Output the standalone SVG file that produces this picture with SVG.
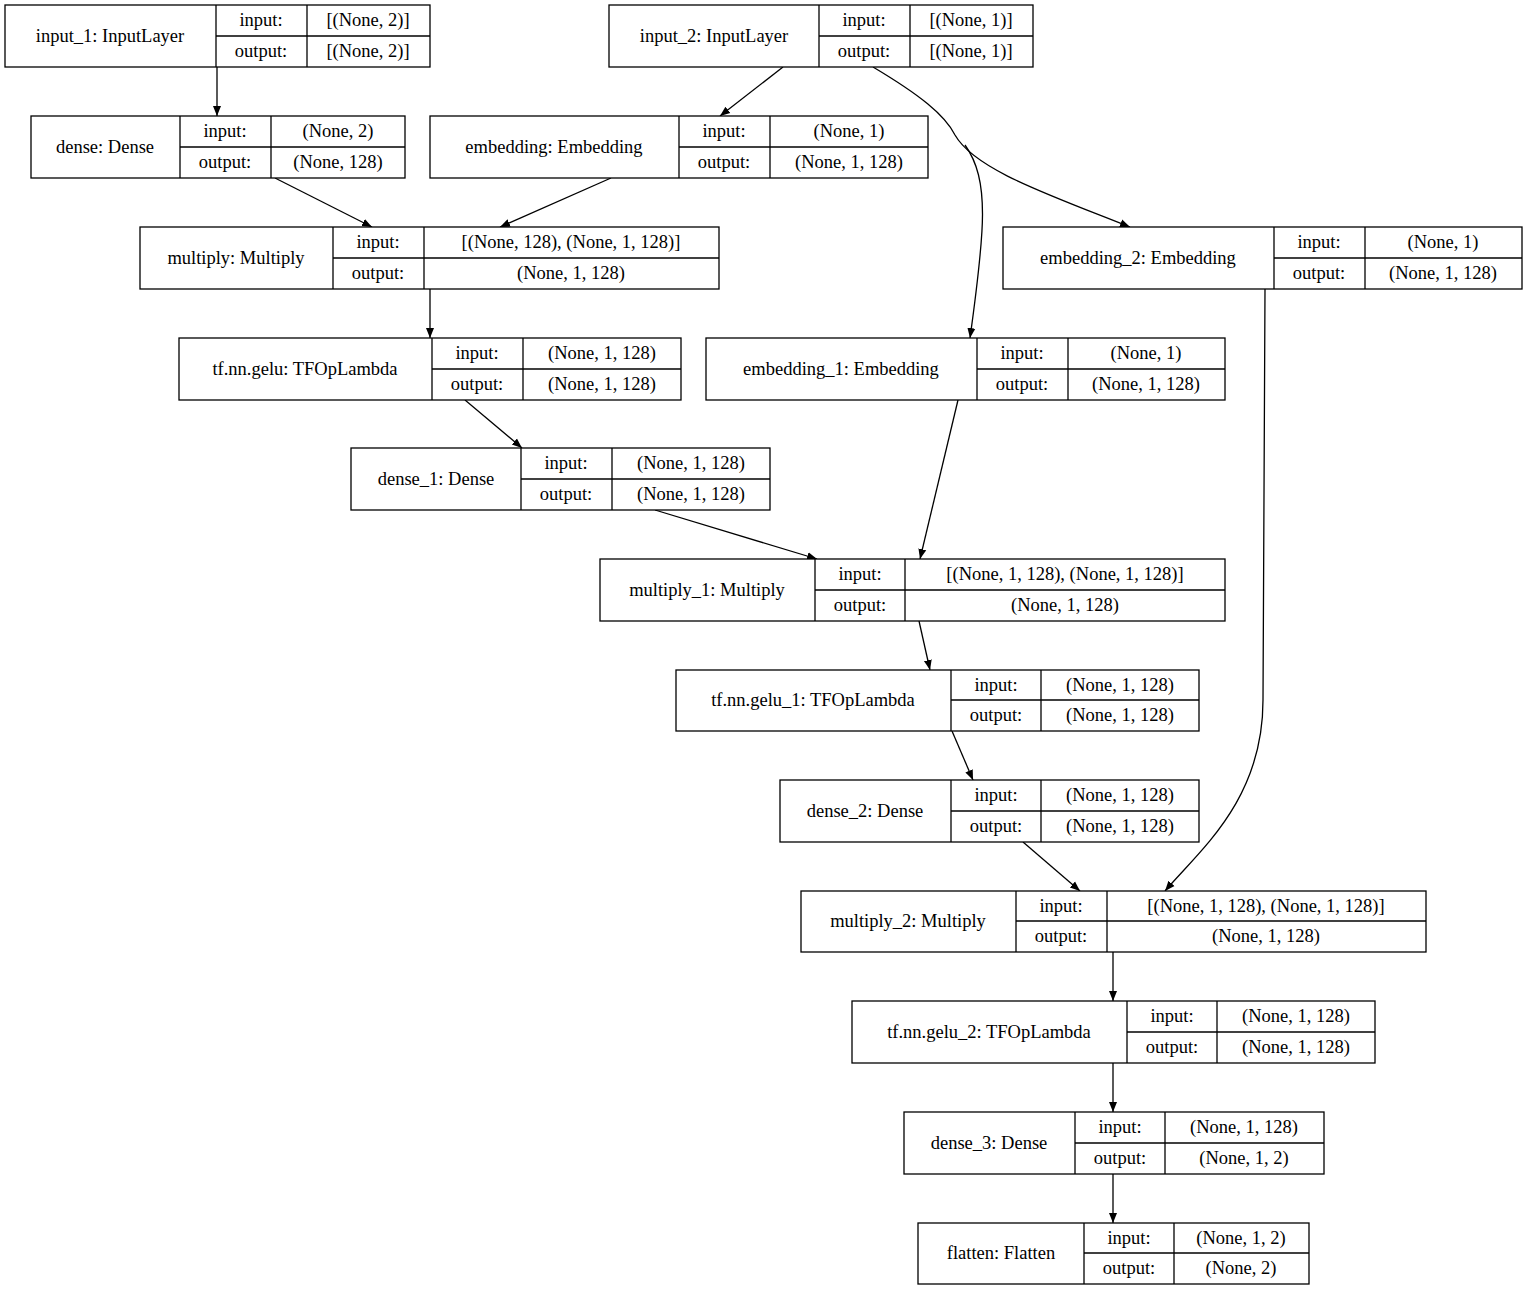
<svg xmlns="http://www.w3.org/2000/svg" width="1529" height="1291" viewBox="0 0 1529 1291">
<style>
rect{fill:#fff;stroke:#000;stroke-width:1.3}
line.d{stroke:#000;stroke-width:1.3}
text{font-family:"Liberation Serif",serif;font-size:18.5px;text-anchor:middle;dominant-baseline:central}
.e{fill:none;stroke:#000;stroke-width:1.3;marker-end:url(#a)}
</style>
<defs><marker id="a" viewBox="0 0 10 10" refX="10" refY="5" markerWidth="10" markerHeight="10" markerUnits="userSpaceOnUse" orient="auto"><path d="M0,1 L10,5 L0,9z" fill="#000"/></marker></defs>
<rect width="1529" height="1291" style="stroke:none"/>
<g id="connectors">
<path class="e" d="M217,67 L217,116"/>
<path class="e" d="M783,67 L720,116"/>
<path class="e" d="M873,67 C920,95 945,115 955,135 C975,170 1050,195 1130,227"/>
<path class="e" d="M965,145 C990,180 985,230 970,338"/>
<path class="e" d="M275,178 L372,227"/>
<path class="e" d="M611,178 L500,227"/>
<path class="e" d="M430,289 L430,338"/>
<path class="e" d="M465,400 L522,448"/>
<path class="e" d="M655,510 L817,559"/>
<path class="e" d="M958,400 L920,559"/>
<path class="e" d="M1265,289 L1263,700 C1263,800 1200,850 1165,891"/>
<path class="e" d="M919,621 L930,670"/>
<path class="e" d="M952,731 L973,780"/>
<path class="e" d="M1023,842 L1080,891"/>
<path class="e" d="M1113,952 L1113,1001"/>
<path class="e" d="M1113,1063 L1113,1112"/>
<path class="e" d="M1113,1174 L1113,1223"/>
</g>
<g id="input_1"><rect x="5" y="5" width="425" height="62"/><line class="d" x1="216" y1="5" x2="216" y2="67"/><line class="d" x1="307" y1="5" x2="307" y2="67"/><line class="d" x1="216" y1="36" x2="430" y2="36"/><text x="110" y="36">input_1: InputLayer</text><text x="261" y="20">input:</text><text x="261" y="51">output:</text><text x="368" y="20">[(None, 2)]</text><text x="368" y="51">[(None, 2)]</text></g>
<g id="input_2"><rect x="609" y="5" width="424" height="62"/><line class="d" x1="819" y1="5" x2="819" y2="67"/><line class="d" x1="910" y1="5" x2="910" y2="67"/><line class="d" x1="819" y1="36" x2="1033" y2="36"/><text x="714" y="36">input_2: InputLayer</text><text x="864" y="20">input:</text><text x="864" y="51">output:</text><text x="971" y="20">[(None, 1)]</text><text x="971" y="51">[(None, 1)]</text></g>
<g id="dense"><rect x="31" y="116" width="374" height="62"/><line class="d" x1="180" y1="116" x2="180" y2="178"/><line class="d" x1="271" y1="116" x2="271" y2="178"/><line class="d" x1="180" y1="147" x2="405" y2="147"/><text x="105" y="147">dense: Dense</text><text x="225" y="131">input:</text><text x="225" y="162">output:</text><text x="338" y="131">(None, 2)</text><text x="338" y="162">(None, 128)</text></g>
<g id="embedding"><rect x="430" y="116" width="498" height="62"/><line class="d" x1="679" y1="116" x2="679" y2="178"/><line class="d" x1="770" y1="116" x2="770" y2="178"/><line class="d" x1="679" y1="147" x2="928" y2="147"/><text x="554" y="147">embedding: Embedding</text><text x="724" y="131">input:</text><text x="724" y="162">output:</text><text x="849" y="131">(None, 1)</text><text x="849" y="162">(None, 1, 128)</text></g>
<g id="multiply"><rect x="140" y="227" width="579" height="62"/><line class="d" x1="333" y1="227" x2="333" y2="289"/><line class="d" x1="424" y1="227" x2="424" y2="289"/><line class="d" x1="333" y1="258" x2="719" y2="258"/><text x="236" y="258">multiply: Multiply</text><text x="378" y="242">input:</text><text x="378" y="273">output:</text><text x="571" y="242">[(None, 128), (None, 1, 128)]</text><text x="571" y="273">(None, 1, 128)</text></g>
<g id="embedding_2"><rect x="1003" y="227" width="519" height="62"/><line class="d" x1="1274" y1="227" x2="1274" y2="289"/><line class="d" x1="1365" y1="227" x2="1365" y2="289"/><line class="d" x1="1274" y1="258" x2="1522" y2="258"/><text x="1138" y="258">embedding_2: Embedding</text><text x="1319" y="242">input:</text><text x="1319" y="273">output:</text><text x="1443" y="242">(None, 1)</text><text x="1443" y="273">(None, 1, 128)</text></g>
<g id="tf.nn.gelu"><rect x="179" y="338" width="502" height="62"/><line class="d" x1="432" y1="338" x2="432" y2="400"/><line class="d" x1="523" y1="338" x2="523" y2="400"/><line class="d" x1="432" y1="369" x2="681" y2="369"/><text x="305" y="369">tf.nn.gelu: TFOpLambda</text><text x="477" y="353">input:</text><text x="477" y="384">output:</text><text x="602" y="353">(None, 1, 128)</text><text x="602" y="384">(None, 1, 128)</text></g>
<g id="embedding_1"><rect x="706" y="338" width="519" height="62"/><line class="d" x1="977" y1="338" x2="977" y2="400"/><line class="d" x1="1068" y1="338" x2="1068" y2="400"/><line class="d" x1="977" y1="369" x2="1225" y2="369"/><text x="841" y="369">embedding_1: Embedding</text><text x="1022" y="353">input:</text><text x="1022" y="384">output:</text><text x="1146" y="353">(None, 1)</text><text x="1146" y="384">(None, 1, 128)</text></g>
<g id="dense_1"><rect x="351" y="448" width="419" height="62"/><line class="d" x1="521" y1="448" x2="521" y2="510"/><line class="d" x1="612" y1="448" x2="612" y2="510"/><line class="d" x1="521" y1="479" x2="770" y2="479"/><text x="436" y="479">dense_1: Dense</text><text x="566" y="463">input:</text><text x="566" y="494">output:</text><text x="691" y="463">(None, 1, 128)</text><text x="691" y="494">(None, 1, 128)</text></g>
<g id="multiply_1"><rect x="600" y="559" width="625" height="62"/><line class="d" x1="815" y1="559" x2="815" y2="621"/><line class="d" x1="905" y1="559" x2="905" y2="621"/><line class="d" x1="815" y1="590" x2="1225" y2="590"/><text x="707" y="590">multiply_1: Multiply</text><text x="860" y="574">input:</text><text x="860" y="605">output:</text><text x="1065" y="574">[(None, 1, 128), (None, 1, 128)]</text><text x="1065" y="605">(None, 1, 128)</text></g>
<g id="tf.nn.gelu_1"><rect x="676" y="670" width="523" height="61"/><line class="d" x1="951" y1="670" x2="951" y2="731"/><line class="d" x1="1041" y1="670" x2="1041" y2="731"/><line class="d" x1="951" y1="700" x2="1199" y2="700"/><text x="813" y="700">tf.nn.gelu_1: TFOpLambda</text><text x="996" y="685">input:</text><text x="996" y="715">output:</text><text x="1120" y="685">(None, 1, 128)</text><text x="1120" y="715">(None, 1, 128)</text></g>
<g id="dense_2"><rect x="780" y="780" width="419" height="62"/><line class="d" x1="951" y1="780" x2="951" y2="842"/><line class="d" x1="1041" y1="780" x2="1041" y2="842"/><line class="d" x1="951" y1="811" x2="1199" y2="811"/><text x="865" y="811">dense_2: Dense</text><text x="996" y="795">input:</text><text x="996" y="826">output:</text><text x="1120" y="795">(None, 1, 128)</text><text x="1120" y="826">(None, 1, 128)</text></g>
<g id="multiply_2"><rect x="801" y="891" width="625" height="61"/><line class="d" x1="1016" y1="891" x2="1016" y2="952"/><line class="d" x1="1107" y1="891" x2="1107" y2="952"/><line class="d" x1="1016" y1="921" x2="1426" y2="921"/><text x="908" y="921">multiply_2: Multiply</text><text x="1061" y="906">input:</text><text x="1061" y="936">output:</text><text x="1266" y="906">[(None, 1, 128), (None, 1, 128)]</text><text x="1266" y="936">(None, 1, 128)</text></g>
<g id="tf.nn.gelu_2"><rect x="852" y="1001" width="523" height="62"/><line class="d" x1="1127" y1="1001" x2="1127" y2="1063"/><line class="d" x1="1217" y1="1001" x2="1217" y2="1063"/><line class="d" x1="1127" y1="1032" x2="1375" y2="1032"/><text x="989" y="1032">tf.nn.gelu_2: TFOpLambda</text><text x="1172" y="1016">input:</text><text x="1172" y="1047">output:</text><text x="1296" y="1016">(None, 1, 128)</text><text x="1296" y="1047">(None, 1, 128)</text></g>
<g id="dense_3"><rect x="904" y="1112" width="420" height="62"/><line class="d" x1="1075" y1="1112" x2="1075" y2="1174"/><line class="d" x1="1165" y1="1112" x2="1165" y2="1174"/><line class="d" x1="1075" y1="1143" x2="1324" y2="1143"/><text x="989" y="1143">dense_3: Dense</text><text x="1120" y="1127">input:</text><text x="1120" y="1158">output:</text><text x="1244" y="1127">(None, 1, 128)</text><text x="1244" y="1158">(None, 1, 2)</text></g>
<g id="flatten"><rect x="918" y="1223" width="391" height="61"/><line class="d" x1="1084" y1="1223" x2="1084" y2="1284"/><line class="d" x1="1174" y1="1223" x2="1174" y2="1284"/><line class="d" x1="1084" y1="1253" x2="1309" y2="1253"/><text x="1001" y="1253">flatten: Flatten</text><text x="1129" y="1238">input:</text><text x="1129" y="1268">output:</text><text x="1241" y="1238">(None, 1, 2)</text><text x="1241" y="1268">(None, 2)</text></g>
</svg>
